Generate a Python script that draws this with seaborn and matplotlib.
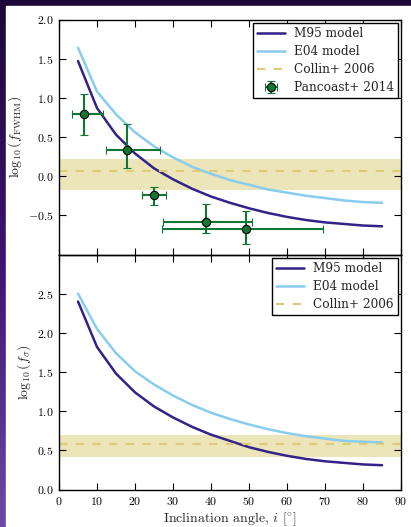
import numpy as np
import pandas as pd
import matplotlib
matplotlib.use("Agg")
import matplotlib.pyplot as plt
from matplotlib.patches import Rectangle
import seaborn as sns

# inclination grid of the model curves (deg)
inc = [5, 10, 15, 20, 25, 30, 35, 40, 45, 50, 55, 60, 65, 70, 75, 80, 85]

# top panel: log10(f_FWHM)
m95_fwhm = [1.47, 0.87, 0.53, 0.29, 0.10, -0.04, -0.16, -0.26, -0.34, -0.41,
            -0.47, -0.52, -0.56, -0.59, -0.61, -0.63, -0.64]
e04_fwhm = [1.64, 1.08, 0.79, 0.56, 0.38, 0.24, 0.12, 0.03, -0.05, -0.11,
            -0.17, -0.21, -0.25, -0.28, -0.31, -0.33, -0.34]

# bottom panel: log10(f_sigma)
m95_sigma = [2.40, 1.82, 1.48, 1.24, 1.06, 0.92, 0.80, 0.70, 0.62, 0.54,
             0.48, 0.43, 0.39, 0.36, 0.34, 0.32, 0.31]
e04_sigma = [2.50, 2.05, 1.74, 1.51, 1.34, 1.20, 1.08, 0.98, 0.90, 0.83,
             0.77, 0.72, 0.68, 0.65, 0.62, 0.61, 0.60]

# Collin+ 2006 mean and band
collin_fwhm = 0.07
collin_fwhm_band = (-0.18, 0.22)
collin_sigma = 0.58
collin_sigma_band = (0.41, 0.70)

# Pancoast+ 2014 individual objects
pan_inc = [6.5, 18.0, 25.0, 38.7, 49.3]
pan_inc_lo = [3.5, 12.3, 21.8, 27.3, 27.1]
pan_inc_hi = [11.5, 26.5, 28.2, 50.8, 69.6]
pan_f = [0.79, 0.34, -0.24, -0.58, -0.68]
pan_f_lo = [0.52, 0.10, -0.37, -0.72, -0.86]
pan_f_hi = [1.05, 0.66, -0.14, -0.35, -0.44]

c_m95 = "#332288"
c_e04 = "#88CCEE"
c_collin = "#DDCC77"
c_pan = "#117733"

sns.set_theme(style="ticks")
plt.rcParams["font.family"] = "serif"
plt.rcParams["font.serif"] = ["cmr10", "DejaVu Serif"]
plt.rcParams["mathtext.fontset"] = "cm"
plt.rcParams["axes.formatter.use_mathtext"] = True
plt.rcParams["axes.unicode_minus"] = True

fig = plt.figure(figsize=(4.11, 5.27), dpi=100)

# slide-like purple frame behind the figure
bg = fig.add_axes([0, 0, 1, 1], zorder=-10)
grad = np.linspace(0, 1, 256).reshape(-1, 1)
cmap = matplotlib.colors.LinearSegmentedColormap.from_list("bg", ["#1c0838", "#3c1470", "#6a4aa8"])
bg.imshow(grad, extent=[0, 1, 0, 1], aspect="auto", cmap=cmap, origin="upper")
bg.add_patch(Rectangle((6 / 411, 0), 1, 1 - 6 / 527, color="white", transform=bg.transAxes))
bg.set_xlim(0, 1)
bg.set_ylim(0, 1)
bg.axis("off")

left, right = 59 / 411, 401 / 411
top, bottom = 1 - 19.5 / 527, 1 - 489.5 / 527
mid = (top + bottom) / 2
ax1 = fig.add_axes([left, mid, right - left, top - mid])
ax2 = fig.add_axes([left, bottom, right - left, mid - bottom], sharex=ax1)

top_df = pd.DataFrame({"inc": inc, "m95": m95_fwhm, "e04": e04_fwhm})
bot_df = pd.DataFrame({"inc": inc, "m95": m95_sigma, "e04": e04_sigma})

for ax, df, cval, band in [(ax1, top_df, collin_fwhm, collin_fwhm_band),
                           (ax2, bot_df, collin_sigma, collin_sigma_band)]:
    sns.lineplot(data=df, x="inc", y="m95", color=c_m95, lw=1.8, label="M95 model", ax=ax)
    sns.lineplot(data=df, x="inc", y="e04", color=c_e04, lw=1.8, label="E04 model", ax=ax)
    ax.axhline(cval, color=c_collin, lw=1.5, ls=(0, (4, 4)), label="Collin+ 2006")
    ax.axhspan(band[0], band[1], color=c_collin, alpha=0.5, lw=0, zorder=0)

pan_x = np.array(pan_inc)
pan_y = np.array(pan_f)
xerr = [pan_x - np.array(pan_inc_lo), np.array(pan_inc_hi) - pan_x]
yerr = [pan_y - np.array(pan_f_lo), np.array(pan_f_hi) - pan_y]
ax1.errorbar(pan_x, pan_y, xerr=xerr, yerr=yerr, fmt="o", color=c_pan, ecolor=c_pan,
             mfc=c_pan, mec="black", mew=0.8, ms=6, elinewidth=1.5, capsize=3, capthick=1.2,
             label="Pancoast+ 2014", zorder=5)

ax1.set_ylim(-1.0, 2.0)
ax1.set_yticks([-0.5, 0.0, 0.5, 1.0, 1.5, 2.0])
ax2.set_ylim(0.0, 3.0)
ax2.set_yticks([0.0, 0.5, 1.0, 1.5, 2.0, 2.5])
ax2.set_xlim(0, 90)
ax2.set_xticks(range(0, 91, 10))

ax1.set_ylabel(r"$\log_{10}(f_{\rm FWHM})$", fontsize=10, labelpad=3)
ax2.set_ylabel(r"$\log_{10}(f_{\sigma})$", fontsize=10, labelpad=3)
ax1.set_xlabel("")
ax2.set_xlabel(r"Inclination angle, $i$ [$^{\circ}$]", fontsize=10, labelpad=2)

for ax in (ax1, ax2):
    ax.tick_params(direction="in", top=True, right=True, length=5, width=0.8,
                   labelsize=8.5, colors="black", pad=4)
    for s in ax.spines.values():
        s.set_linewidth(1.0)
        s.set_color("black")
    ax.set_facecolor("none")
    leg = ax.legend(loc="upper right", frameon=True, fancybox=False,
                    prop={"family": "DejaVu Serif", "size": 8.7},
                    edgecolor="black", framealpha=1, borderpad=0.35, labelspacing=0.42,
                    handlelength=2.3, handletextpad=0.75, borderaxespad=0.25)
    leg.get_frame().set_linewidth(1.0)
plt.setp(ax1.get_xticklabels(), visible=False)

fig.savefig("out.png", dpi=100)
